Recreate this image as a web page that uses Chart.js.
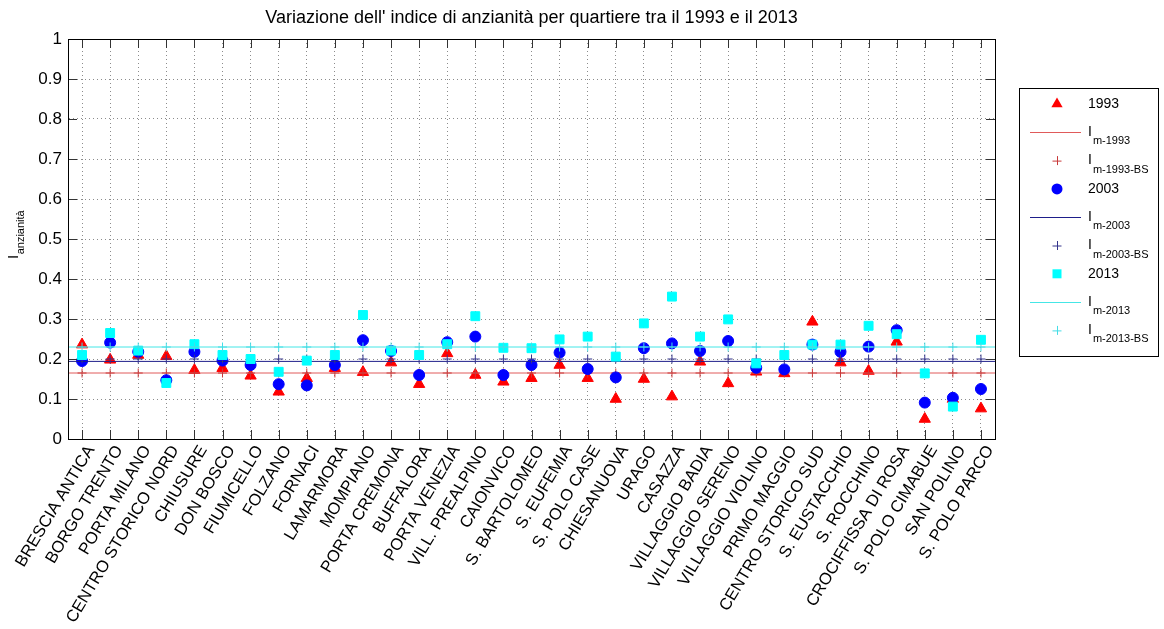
<!DOCTYPE html>
<html>
<head>
<meta charset="utf-8">
<script src="https://cdn.jsdelivr.net/npm/chart.js@4.4.1/dist/chart.umd.min.js"></script>
<style>
  html, body { margin: 0; padding: 0; background: #ffffff; }
  #wrap { width: 1164px; height: 629px; position: relative; }
</style>
</head>
<body>
<div id="wrap"><canvas id="chart" width="1164" height="629"></canvas></div>
<script>
// Quartieri di Brescia
const quartieri = [
  'BRESCIA ANTICA', 'BORGO TRENTO', 'PORTA MILANO', 'CENTRO STORICO NORD', 'CHIUSURE',
  'DON BOSCO', 'FIUMICELLO', 'FOLZANO', 'FORNACI', 'LAMARMORA', 'MOMPIANO',
  'PORTA CREMONA', 'BUFFALORA', 'PORTA VENEZIA', 'VILL. PREALPINO', 'CAIONVICO',
  'S. BARTOLOMEO', 'S. EUFEMIA', 'S. POLO CASE', 'CHIESANUOVA', 'URAGO', 'CASAZZA',
  'VILLAGGIO BADIA', 'VILLAGGIO SERENO', 'VILLAGGIO VIOLINO', 'PRIMO MAGGIO',
  'CENTRO STORICO SUD', 'S. EUSTACCHIO', 'S. ROCCHINO', 'CROCIFFISSA DI ROSA',
  'S. POLO CIMABUE', 'SAN POLINO', 'S. POLO PARCO'
];

// Indice di anzianità per quartiere
const indice1993 = [0.236, 0.198, 0.210, 0.207, 0.172, 0.177, 0.158, 0.118, 0.152, 0.177, 0.167,
                    0.191, 0.137, 0.214, 0.160, 0.143, 0.152, 0.185, 0.152, 0.100, 0.150, 0.106,
                    0.193, 0.139, 0.168, 0.164, 0.293, 0.191, 0.170, 0.243, 0.050, 0.100, 0.076];
const indice2003 = [0.195, 0.241, 0.218, 0.147, 0.218, 0.196, 0.185, 0.137, 0.134, 0.185, 0.247,
                    0.220, 0.160, 0.242, 0.256, 0.160, 0.185, 0.216, 0.175, 0.154, 0.227, 0.239,
                    0.220, 0.245, 0.178, 0.174, 0.236, 0.218, 0.231, 0.272, 0.091, 0.103, 0.125];
const indice2013 = [0.210, 0.265, 0.221, 0.140, 0.237, 0.210, 0.200, 0.168, 0.196, 0.210, 0.310,
                    0.221, 0.210, 0.237, 0.307, 0.228, 0.227, 0.249, 0.256, 0.206, 0.289, 0.356,
                    0.256, 0.299, 0.189, 0.210, 0.236, 0.236, 0.283, 0.262, 0.164, 0.081, 0.248];

// Valori medi (cittadino e "BS")
const media1993 = 0.165, media2003 = 0.194, media2013 = 0.230;
const mediaBS1993 = 0.165, mediaBS2003 = 0.200, mediaBS2013 = 0.230;

// Tacche dell'asse verticale
const yTicks = [0, 0.1, 0.2, 0.3, 0.4, 0.5, 0.6, 0.7, 0.8, 0.9, 1];

const FONT = "'Liberation Sans', Arial, Helvetica, sans-serif";
const xMin = -0.5, xMax = quartieri.length - 0.5;

const points = arr => arr.map((v, i) => ({ x: i, y: v }));
const constant = v => quartieri.map((_, i) => ({ x: i, y: v }));
const span = v => [{ x: xMin, y: v }, { x: xMax, y: v }];

const COL = {
  r93: '#ff0000', line93: '#e05a5a', bs93: '#c83a3a',
  b03: '#0000ff', line03: '#1e1e8a', bs03: '#34348c',
  c13: '#00ffff', line13: '#45e6e6', bs13: '#45dde6'
};

// Legenda con pedici, disegnata a destra del grafico
const legendItems = [
  { kind: 'triangle', color: COL.r93, text: '1993' },
  { kind: 'line', color: COL.line93, text: 'I', sub: 'm-1993' },
  { kind: 'cross', color: COL.bs93, text: 'I', sub: 'm-1993-BS' },
  { kind: 'circle', color: COL.b03, text: '2003' },
  { kind: 'line', color: COL.line03, text: 'I', sub: 'm-2003' },
  { kind: 'cross', color: COL.bs03, text: 'I', sub: 'm-2003-BS' },
  { kind: 'square', color: COL.c13, text: '2013' },
  { kind: 'line', color: COL.line13, text: 'I', sub: 'm-2013' },
  { kind: 'cross', color: COL.bs13, text: 'I', sub: 'm-2013-BS' }
];

const framePlugin = {
  id: 'frame',
  afterDraw(chart) {
    const { ctx, chartArea: a, scales } = chart;
    ctx.save();
    // tacche interne su tutti e quattro i lati
    ctx.strokeStyle = '#333';
    ctx.lineWidth = 1;
    ctx.beginPath();
    quartieri.forEach((_, i) => {
      const x = Math.round(scales.x.getPixelForValue(i)) + 0.5;
      ctx.moveTo(x, a.bottom); ctx.lineTo(x, a.bottom - 9);
      ctx.moveTo(x, a.top); ctx.lineTo(x, a.top + 9);
    });
    yTicks.slice(1, -1).forEach(v => {
      const y = Math.round(scales.y.getPixelForValue(v)) + 0.5;
      ctx.moveTo(a.left, y); ctx.lineTo(a.left + 9, y);
      ctx.moveTo(a.right, y); ctx.lineTo(a.right - 9, y);
    });
    ctx.stroke();
    // riquadro degli assi
    ctx.strokeStyle = '#000';
    ctx.strokeRect(Math.round(a.left) + 0.5, Math.round(a.top) + 0.5,
                   Math.round(a.right - a.left), Math.round(a.bottom - a.top));

    // etichetta asse y: I con pedice "anzianità"
    ctx.save();
    ctx.translate(18, 259);
    ctx.rotate(-Math.PI / 2);
    ctx.fillStyle = '#000';
    ctx.textBaseline = 'alphabetic';
    ctx.textAlign = 'left';
    ctx.font = `15px ${FONT}`;
    ctx.fillText('I', 0, 0);
    const wI = ctx.measureText('I').width;
    ctx.font = `11px ${FONT}`;
    ctx.fillText('anzianità', wI + 0.5, 6);
    ctx.restore();

    // legenda
    const L = { left: 1019.5, top: 88.5, width: 139, height: 268 };
    ctx.fillStyle = '#fff';
    ctx.fillRect(L.left, L.top, L.width, L.height);
    ctx.strokeStyle = '#000';
    ctx.strokeRect(L.left, L.top, L.width, L.height);
    const mx = 1057, tx = 1088;
    legendItems.forEach((it, k) => {
      const y = 104 + k * 28.3;
      ctx.fillStyle = it.color;
      ctx.strokeStyle = it.color;
      ctx.lineWidth = 1;
      ctx.beginPath();
      if (it.kind === 'triangle') {
        const r = 6.5;
        ctx.moveTo(mx, y - r);
        ctx.lineTo(mx + r * 0.866, y + r * 0.5);
        ctx.lineTo(mx - r * 0.866, y + r * 0.5);
        ctx.closePath(); ctx.fill();
      } else if (it.kind === 'circle') {
        ctx.arc(mx, y, 5.5, 0, Math.PI * 2); ctx.fill();
      } else if (it.kind === 'square') {
        ctx.rect(mx - 4.5, y - 4.5, 9, 9); ctx.fill();
      } else if (it.kind === 'cross') {
        ctx.moveTo(mx - 4.5, y + 0.5); ctx.lineTo(mx + 4.5, y + 0.5);
        ctx.moveTo(mx + 0.5, y - 4.5); ctx.lineTo(mx + 0.5, y + 4.5);
        ctx.stroke();
      } else if (it.kind === 'line') {
        ctx.moveTo(1030, Math.round(y) + 0.5); ctx.lineTo(1081, Math.round(y) + 0.5);
        ctx.stroke();
      }
      ctx.fillStyle = '#000';
      ctx.textAlign = 'left';
      ctx.textBaseline = 'middle';
      ctx.font = `14px ${FONT}`;
      ctx.fillText(it.text, tx, y);
      if (it.sub) {
        const w = ctx.measureText(it.text).width;
        ctx.font = `11px ${FONT}`;
        ctx.fillText(it.sub, tx + w + 1, y + 9);
      }
    });
    ctx.restore();
  }
};

const markerSet = (label, data, style, radius, color, order) => ({
  label, data, order, showLine: false,
  pointStyle: style, pointRadius: radius, pointHoverRadius: radius,
  backgroundColor: color, borderColor: color, pointBorderWidth: 1
});
const crossSet = (label, data, color, order) => ({
  label, data, order, showLine: false,
  pointStyle: 'cross', pointRadius: 4.5, pointHoverRadius: 4.5,
  backgroundColor: color, borderColor: color, pointBorderWidth: 1
});
const lineSet = (label, data, color, order) => ({
  label, data, order, showLine: true, pointRadius: 0, pointHoverRadius: 0,
  borderColor: color, borderWidth: 1, fill: false
});

new Chart(document.getElementById('chart'), {
  type: 'scatter',
  data: {
    datasets: [
      markerSet('1993', points(indice1993), 'triangle', 6.5, COL.r93, 9),
      lineSet('I m-1993', span(media1993), COL.line93, 8),
      crossSet('I m-1993-BS', constant(mediaBS1993), COL.bs93, 7),
      markerSet('2003', points(indice2003), 'circle', 5.5, COL.b03, 6),
      lineSet('I m-2003', span(media2003), COL.line03, 5),
      crossSet('I m-2003-BS', constant(mediaBS2003), COL.bs03, 4),
      markerSet('2013', points(indice2013), 'rect', 6.3, COL.c13, 3),
      lineSet('I m-2013', span(media2013), COL.line13, 2),
      crossSet('I m-2013-BS', constant(mediaBS2013), COL.bs13, 1)
    ]
  },
  options: {
    responsive: false,
    animation: false,
    devicePixelRatio: 1,
    events: [],
    layout: { padding: { left: 0, right: 169, top: 0, bottom: 0 } },
    plugins: {
      legend: { display: false },
      tooltip: { enabled: false },
      title: {
        display: true,
        fullSize: false,
        text: "Variazione dell' indice di anzianità per quartiere tra il 1993 e il 2013",
        color: '#000',
        font: { family: FONT, size: 18, weight: 'normal', lineHeight: 1.2 },
        padding: { top: 7, bottom: 10.4 }
      }
    },
    scales: {
      x: {
        type: 'linear',
        min: xMin, max: xMax,
        afterBuildTicks: s => { s.ticks = quartieri.map((_, i) => ({ value: i })); },
        afterFit: s => { s.height = 190; },
        ticks: {
          autoSkip: false, minRotation: 59, maxRotation: 59,
          padding: 3, labelOffset: 9, color: '#000',
          font: { family: FONT, size: 16.6 },
          callback: v => quartieri[v]
        },
        grid: { color: '#8c8c8c', lineWidth: 1, drawTicks: false },
        border: { display: true, color: '#000', dash: [1, 3] }
      },
      y: {
        type: 'linear',
        min: 0, max: 1,
        afterBuildTicks: s => { s.ticks = yTicks.map(v => ({ value: v })); },
        afterFit: s => { s.width = 68; },
        ticks: {
          padding: 6, color: '#000',
          font: { family: FONT, size: 17 },
          callback: v => String(Number(v.toFixed(1)))
        },
        grid: { color: '#8c8c8c', lineWidth: 1, drawTicks: false },
        border: { display: true, color: '#000', dash: [1, 3] }
      }
    }
  },
  plugins: [framePlugin]
});
</script>
</body>
</html>
